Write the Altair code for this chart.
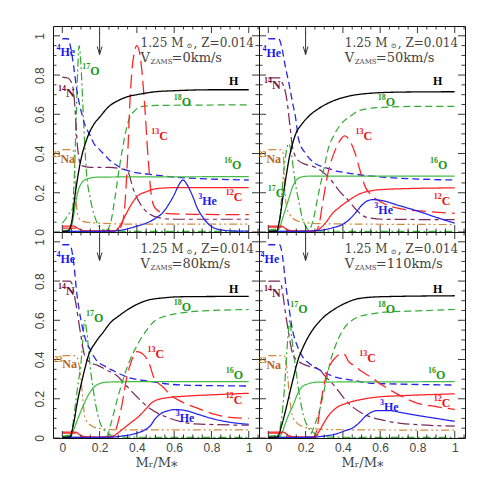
import altair as alt
import pandas as pd

# ---------------- axis ticks ----------------
X_MAJOR = [0, 0.2, 0.4, 0.6, 0.8, 1.0]
X_MINOR = [0.05, 0.1, 0.15, 0.25, 0.3, 0.35, 0.45, 0.5, 0.55, 0.65, 0.7, 0.75, 0.85, 0.9, 0.95, 1.05]
Y_MAJOR = [0, 0.2, 0.4, 0.6, 0.8, 1.0]
Y_MINOR = [0.05, 0.1, 0.15, 0.25, 0.3, 0.35, 0.45, 0.5, 0.55, 0.65, 0.7, 0.75, 0.85, 0.9, 0.95]
XDOM = [-0.05, 1.055]
YDOM = [0, 1.05]

VELOCITIES = ["0", "50", "80", "110"]
ARROW_X = [0.2, 0.2, 0.2, 0.2]

SPECIES = ["H", "He4", "He3", "C12", "C13", "N14", "O16", "O17", "O18", "Na23"]
LINE_COLORS = ["#000000", "#2424ee", "#2424ee", "#ff2222", "#ff2222", "#7a2a5a",
               "#44bb44", "#33aa33", "#33aa33", "#d08a40"]
LINE_DASH = [[1, 0], [7, 4], [1, 0], [1, 0], [14, 6], [12, 4, 4, 4],
             [1, 0], [8, 3, 2, 3], [7, 4], [8, 3, 2, 3, 2, 3]]
LINE_WIDTH = [1.3, 1.2, 1.2, 1.2, 1.2, 1.3, 2.0, 1.2, 1.2, 1.3]
LABEL_COLORS = {"H": "#000000", "He4": "#1a1aee", "He3": "#1a1aee", "C12": "#ee1111",
                "C13": "#ee1111", "N14": "#6a1040", "O16": "#1a9a1a", "O17": "#1a9a1a",
                "O18": "#1a9a1a", "Na23": "#b8661c"}

# ---------------- V = 0 km/s ----------------
V0_H = [(0, 0.003), (0.03, 0.005), (0.05, 0.05), (0.07, 0.2), (0.1, 0.37), (0.13, 0.47), (0.17, 0.55),
        (0.2, 0.585), (0.25, 0.64), (0.3, 0.67), (0.35, 0.69), (0.4, 0.70), (0.5, 0.715), (0.6, 0.72),
        (0.8, 0.725), (1.0, 0.725)]
V0_He4 = [(0, 0.985), (0.03, 0.985), (0.045, 0.94), (0.06, 0.85), (0.08, 0.71), (0.1, 0.62), (0.12, 0.55),
          (0.15, 0.49), (0.17, 0.45), (0.2, 0.42), (0.25, 0.37), (0.3, 0.335), (0.36, 0.31), (0.46, 0.295),
          (0.6, 0.28), (0.8, 0.27), (1.0, 0.265)]
V0_N14 = [(0, 0.79), (0.03, 0.785), (0.045, 0.77), (0.06, 0.72), (0.07, 0.6), (0.08, 0.45), (0.09, 0.37),
          (0.1, 0.34), (0.15, 0.33), (0.25, 0.33), (0.3, 0.325), (0.35, 0.31), (0.38, 0.22), (0.42, 0.14),
          (0.47, 0.09), (0.53, 0.07), (0.6, 0.065), (1.0, 0.065)]
V0_Na23 = [(0, 0.42), (0.055, 0.42), (0.062, 0.40), (0.068, 0.3), (0.075, 0.15), (0.085, 0.08), (0.1, 0.06),
           (0.13, 0.05), (0.2, 0.045), (0.4, 0.04), (1.0, 0.04)]
V0_O17 = [(0, 0.045), (0.02, 0.07), (0.04, 0.1), (0.055, 0.12), (0.065, 0.3), (0.075, 0.6), (0.085, 0.88),
          (0.09, 0.95), (0.1, 0.85), (0.11, 0.65), (0.12, 0.45), (0.13, 0.3), (0.15, 0.17), (0.17, 0.09),
          (0.2, 0.025), (0.23, 0.008), (0.4, 0.003), (1.0, 0.003)]
V0_O16 = [(0, 0.008), (0.04, 0.01), (0.05, 0.03), (0.06, 0.08), (0.07, 0.14), (0.08, 0.19), (0.09, 0.225),
          (0.1, 0.245), (0.12, 0.265), (0.15, 0.275), (0.2, 0.28), (1.0, 0.282)]
V0_O18 = [(0, 0.003), (0.22, 0.004), (0.24, 0.01), (0.26, 0.05), (0.28, 0.16), (0.3, 0.29), (0.32, 0.41),
          (0.34, 0.51), (0.36, 0.58), (0.39, 0.62), (0.43, 0.64), (0.5, 0.645), (1.0, 0.648)]
V0_C13 = [(0, 0.02), (0.07, 0.02), (0.1, 0.008), (0.15, 0.004), (0.29, 0.004), (0.32, 0.04), (0.335, 0.13),
          (0.35, 0.38), (0.363, 0.67), (0.38, 0.88), (0.40, 0.95), (0.42, 0.88), (0.44, 0.67), (0.46, 0.38),
          (0.48, 0.17), (0.5, 0.12), (0.55, 0.095), (0.7, 0.09), (1.0, 0.088)]
V0_C12 = [(0, 0.03), (0.06, 0.03), (0.09, 0.015), (0.12, 0.006), (0.28, 0.006), (0.3, 0.02), (0.32, 0.05),
          (0.344, 0.095), (0.37, 0.14), (0.4, 0.18), (0.45, 0.205), (0.5, 0.22), (0.6, 0.226), (1.0, 0.226)]
V0_He3 = [(0, 0.003), (0.25, 0.004), (0.32, 0.01), (0.4, 0.03), (0.45, 0.045), (0.5, 0.07), (0.54, 0.1),
          (0.57, 0.14), (0.6, 0.19), (0.625, 0.24), (0.647, 0.265), (0.67, 0.24), (0.7, 0.18), (0.725, 0.12),
          (0.754, 0.075), (0.79, 0.035), (0.83, 0.015), (0.9, 0.006), (1.0, 0.004)]

# ---------------- V = 50 km/s ----------------
V50_H = [(0, 0.003), (0.045, 0.005), (0.06, 0.06), (0.08, 0.19), (0.1, 0.31), (0.11, 0.367), (0.13, 0.45),
         (0.147, 0.5), (0.18, 0.55), (0.217, 0.59), (0.28, 0.635), (0.34, 0.665), (0.42, 0.69), (0.52, 0.705),
         (0.7, 0.713), (1.0, 0.715)]
V50_He4 = [(0, 0.985), (0.056, 0.985), (0.07, 0.95), (0.092, 0.84), (0.11, 0.76), (0.13, 0.66), (0.145, 0.59),
           (0.163, 0.47), (0.2, 0.4), (0.25, 0.35), (0.3, 0.33), (0.35, 0.315), (0.43, 0.30), (0.61, 0.28),
           (0.8, 0.27), (1.0, 0.265)]
V50_N14 = [(0, 0.785), (0.06, 0.785), (0.075, 0.76), (0.09, 0.72), (0.1, 0.67), (0.115, 0.55), (0.13, 0.43),
           (0.16, 0.365), (0.2, 0.345), (0.25, 0.33), (0.3, 0.3), (0.34, 0.26), (0.38, 0.21), (0.43, 0.16),
           (0.47, 0.115), (0.52, 0.077), (0.61, 0.065), (1.0, 0.063)]
V50_Na23 = [(0, 0.42), (0.07, 0.42), (0.08, 0.4), (0.085, 0.3), (0.09, 0.2), (0.1, 0.12), (0.115, 0.09),
            (0.13, 0.07), (0.16, 0.055), (0.2, 0.048), (0.3, 0.042), (1.0, 0.038)]
V50_O17 = [(0, 0.01), (0.04, 0.015), (0.06, 0.05), (0.07, 0.16), (0.08, 0.28), (0.09, 0.37), (0.1, 0.43),
           (0.11, 0.45), (0.12, 0.42), (0.135, 0.32), (0.15, 0.22), (0.163, 0.16), (0.18, 0.08), (0.2, 0.03),
           (0.22, 0.01), (0.3, 0.004), (1.0, 0.003)]
V50_O16 = [(0, 0.005), (0.05, 0.008), (0.06, 0.02), (0.08, 0.08), (0.1, 0.14), (0.11, 0.17), (0.13, 0.23),
           (0.147, 0.26), (0.17, 0.278), (0.2, 0.284), (0.3, 0.285), (1.0, 0.285)]
V50_O18 = [(0, 0.003), (0.2, 0.003), (0.22, 0.01), (0.24, 0.06), (0.27, 0.2), (0.3, 0.33), (0.32, 0.42),
           (0.35, 0.49), (0.39, 0.55), (0.44, 0.59), (0.49, 0.62), (0.6, 0.635), (0.8, 0.64), (1.0, 0.64)]
V50_C13 = [(0, 0.025), (0.07, 0.025), (0.1, 0.01), (0.15, 0.004), (0.25, 0.004), (0.27, 0.03), (0.29, 0.14),
           (0.32, 0.30), (0.34, 0.37), (0.36, 0.42), (0.38, 0.46), (0.41, 0.49), (0.44, 0.46), (0.466, 0.4),
           (0.49, 0.32), (0.52, 0.23), (0.55, 0.19), (0.61, 0.15), (0.7, 0.12), (0.85, 0.105), (1.0, 0.095)]
V50_C12 = [(0, 0.03), (0.07, 0.03), (0.1, 0.012), (0.14, 0.005), (0.25, 0.005), (0.28, 0.02), (0.31, 0.05),
           (0.34, 0.09), (0.38, 0.125), (0.43, 0.16), (0.48, 0.19), (0.55, 0.21), (0.62, 0.217), (0.7, 0.22),
           (1.0, 0.225)]
V50_He3 = [(0, 0.003), (0.2, 0.004), (0.25, 0.006), (0.34, 0.02), (0.4, 0.04), (0.43, 0.06), (0.47, 0.1),
           (0.5, 0.135), (0.53, 0.158), (0.56, 0.165), (0.61, 0.16), (0.7, 0.135), (0.79, 0.11), (0.9, 0.075),
           (1.0, 0.045)]

# ---------------- V = 80 km/s ----------------
V80_H = [(0, 0.003), (0.04, 0.005), (0.06, 0.07), (0.08, 0.18), (0.1, 0.27), (0.12, 0.35), (0.14, 0.42),
         (0.18, 0.49), (0.22, 0.54), (0.26, 0.59), (0.3, 0.62), (0.36, 0.66), (0.45, 0.70), (0.55, 0.715),
         (0.64, 0.72), (1.0, 0.722)]
V80_He4 = [(0, 0.985), (0.04, 0.985), (0.05, 0.96), (0.06, 0.9), (0.08, 0.72), (0.1, 0.6), (0.125, 0.5),
           (0.15, 0.45), (0.18, 0.40), (0.23, 0.365), (0.28, 0.34), (0.35, 0.31), (0.46, 0.29), (0.64, 0.27),
           (1.0, 0.265)]
V80_N14 = [(0, 0.8), (0.04, 0.8), (0.05, 0.79), (0.06, 0.75), (0.07, 0.7), (0.08, 0.64), (0.1, 0.52),
           (0.12, 0.42), (0.15, 0.385), (0.19, 0.37), (0.24, 0.345), (0.29, 0.32), (0.34, 0.27), (0.4, 0.21),
           (0.47, 0.15), (0.55, 0.11), (0.63, 0.085), (0.71, 0.072), (1.0, 0.065)]
V80_Na23 = [(0, 0.42), (0.07, 0.42), (0.08, 0.41), (0.09, 0.37), (0.1, 0.3), (0.11, 0.2), (0.12, 0.11),
            (0.14, 0.075), (0.19, 0.05), (0.3, 0.042), (1.0, 0.041)]
V80_O17 = [(0, 0.01), (0.04, 0.015), (0.055, 0.06), (0.07, 0.17), (0.085, 0.28), (0.1, 0.38), (0.11, 0.5),
           (0.12, 0.6), (0.13, 0.55), (0.15, 0.36), (0.17, 0.22), (0.19, 0.12), (0.21, 0.06), (0.24, 0.03),
           (0.27, 0.01), (0.35, 0.004), (1.0, 0.003)]
V80_O16 = [(0, 0.005), (0.045, 0.01), (0.06, 0.04), (0.08, 0.09), (0.11, 0.16), (0.14, 0.22), (0.17, 0.26),
           (0.2, 0.277), (0.24, 0.285), (0.4, 0.287), (1.0, 0.287)]
V80_O18 = [(0, 0.003), (0.22, 0.004), (0.24, 0.01), (0.26, 0.07), (0.29, 0.18), (0.32, 0.28), (0.36, 0.39),
           (0.4, 0.47), (0.46, 0.56), (0.5, 0.6), (0.55, 0.62), (0.62, 0.635), (0.71, 0.645), (1.0, 0.655)]
V80_C13 = [(0, 0.025), (0.07, 0.025), (0.1, 0.01), (0.15, 0.004), (0.27, 0.004), (0.29, 0.05), (0.32, 0.17),
           (0.344, 0.3), (0.37, 0.39), (0.40, 0.44), (0.44, 0.42), (0.47, 0.37), (0.49, 0.31), (0.54, 0.26),
           (0.58, 0.22), (0.65, 0.18), (0.73, 0.15), (0.82, 0.12), (0.9, 0.105), (1.0, 0.1)]
V80_C12 = [(0, 0.03), (0.07, 0.03), (0.1, 0.012), (0.14, 0.005), (0.26, 0.005), (0.29, 0.02), (0.33, 0.05),
           (0.37, 0.08), (0.41, 0.11), (0.45, 0.15), (0.48, 0.18), (0.51, 0.195), (0.56, 0.205), (0.64, 0.212),
           (0.8, 0.22), (1.0, 0.228)]
V80_He3 = [(0, 0.003), (0.25, 0.004), (0.32, 0.01), (0.4, 0.025), (0.44, 0.04), (0.47, 0.06), (0.5, 0.1),
           (0.53, 0.125), (0.57, 0.14), (0.6, 0.145), (0.66, 0.14), (0.73, 0.12), (0.8, 0.1), (0.9, 0.08),
           (1.0, 0.07)]

# ---------------- V = 110 km/s ----------------
V110_H = [(0, 0.003), (0.05, 0.005), (0.07, 0.06), (0.09, 0.13), (0.11, 0.21), (0.13, 0.29), (0.16, 0.4),
          (0.19, 0.47), (0.23, 0.54), (0.28, 0.6), (0.36, 0.66), (0.42, 0.69), (0.48, 0.71), (0.6, 0.72),
          (1.0, 0.725)]
V110_He4 = [(0, 0.985), (0.06, 0.985), (0.07, 0.96), (0.08, 0.9), (0.09, 0.81), (0.11, 0.67), (0.13, 0.55),
            (0.155, 0.47), (0.18, 0.42), (0.22, 0.38), (0.27, 0.35), (0.36, 0.31), (0.45, 0.295), (0.54, 0.28),
            (0.7, 0.275), (1.0, 0.27)]
V110_N14 = [(0, 0.8), (0.06, 0.8), (0.07, 0.78), (0.08, 0.72), (0.09, 0.65), (0.11, 0.53), (0.13, 0.43),
            (0.155, 0.395), (0.18, 0.38), (0.22, 0.365), (0.27, 0.35), (0.31, 0.31), (0.36, 0.26), (0.4, 0.21),
            (0.45, 0.16), (0.54, 0.11), (0.62, 0.09), (0.71, 0.075), (1.0, 0.06)]
V110_Na23 = [(0, 0.42), (0.085, 0.42), (0.095, 0.39), (0.105, 0.3), (0.115, 0.2), (0.13, 0.11), (0.15, 0.08),
             (0.18, 0.06), (0.25, 0.047), (0.4, 0.042), (1.0, 0.04)]
V110_O17 = [(0, 0.01), (0.05, 0.015), (0.065, 0.06), (0.075, 0.13), (0.09, 0.3), (0.1, 0.45), (0.11, 0.56),
            (0.115, 0.6), (0.125, 0.52), (0.14, 0.4), (0.15, 0.33), (0.17, 0.2), (0.19, 0.11), (0.21, 0.06),
            (0.24, 0.03), (0.27, 0.01), (0.35, 0.004), (1.0, 0.003)]
V110_O16 = [(0, 0.005), (0.06, 0.008), (0.07, 0.02), (0.09, 0.07), (0.11, 0.12), (0.13, 0.16), (0.155, 0.22),
            (0.18, 0.26), (0.22, 0.278), (0.27, 0.285), (1.0, 0.287)]
V110_O18 = [(0, 0.003), (0.2, 0.004), (0.22, 0.01), (0.25, 0.07), (0.28, 0.16), (0.31, 0.29), (0.33, 0.38),
            (0.36, 0.47), (0.4, 0.55), (0.45, 0.6), (0.49, 0.62), (0.55, 0.632), (0.61, 0.64), (0.8, 0.648),
            (1.0, 0.655)]
V110_C13 = [(0, 0.025), (0.08, 0.025), (0.11, 0.01), (0.15, 0.004), (0.24, 0.004), (0.26, 0.04), (0.28, 0.17),
            (0.306, 0.3), (0.33, 0.37), (0.36, 0.41), (0.395, 0.43), (0.41, 0.425), (0.43, 0.39), (0.46, 0.37),
            (0.5, 0.34), (0.55, 0.31), (0.61, 0.27), (0.7, 0.22), (0.79, 0.18), (0.9, 0.16), (1.0, 0.145)]
V110_C12 = [(0, 0.03), (0.08, 0.03), (0.11, 0.012), (0.15, 0.005), (0.25, 0.005), (0.27, 0.03), (0.3, 0.08),
            (0.32, 0.11), (0.36, 0.15), (0.43, 0.18), (0.52, 0.2), (0.6, 0.21), (0.7, 0.215), (1.0, 0.225)]
V110_He3 = [(0, 0.003), (0.24, 0.004), (0.3, 0.01), (0.36, 0.02), (0.42, 0.04), (0.45, 0.05), (0.49, 0.08),
            (0.52, 0.11), (0.55, 0.13), (0.59, 0.14), (0.65, 0.14), (0.71, 0.13), (0.8, 0.115), (0.9, 0.1),
            (1.0, 0.085)]

# ---------------- species labels: (species, superscript, name, x, y) ----------------
V0_LABELS = [("He4", "4", "He", -0.01, 0.92), ("N14", "14", "N", 0.02, 0.71), ("O17", "17", "O", 0.15, 0.82),
             ("Na23", "23", "Na", -0.01, 0.37), ("H", "", "H", 0.894, 0.77), ("O18", "18", "O", 0.64, 0.665),
             ("C13", "13", "C", 0.52, 0.49), ("O16", "16", "O", 0.91, 0.34), ("C12", "12", "C", 0.92, 0.18),
             ("He3", "3", "He", 0.75, 0.16)]
V50_LABELS = [("He4", "4", "He", -0.01, 0.91), ("N14", "14", "N", 0.02, 0.75), ("Na23", "23", "Na", -0.01, 0.37),
              ("O17", "17", "O", 0.04, 0.2), ("H", "", "H", 0.884, 0.77), ("O18", "18", "O", 0.63, 0.665),
              ("C13", "13", "C", 0.51, 0.49), ("O16", "16", "O", 0.91, 0.34), ("C12", "12", "C", 0.93, 0.16),
              ("He3", "3", "He", 0.59, 0.11)]
V80_LABELS = [("He4", "4", "He", -0.01, 0.91), ("N14", "14", "N", 0.02, 0.75), ("O17", "17", "O", 0.17, 0.61),
              ("Na23", "23", "Na", 0.0, 0.375), ("H", "", "H", 0.894, 0.76), ("O18", "18", "O", 0.64, 0.67),
              ("C13", "13", "C", 0.5, 0.43), ("O16", "16", "O", 0.92, 0.32), ("C12", "12", "C", 0.92, 0.195),
              ("He3", "3", "He", 0.63, 0.1)]
V110_LABELS = [("He4", "4", "He", -0.02, 0.91), ("N14", "14", "N", 0.02, 0.74), ("O17", "17", "O", 0.16, 0.66),
               ("Na23", "23", "Na", -0.01, 0.37), ("H", "", "H", 0.884, 0.76), ("O18", "18", "O", 0.63, 0.66),
               ("C13", "13", "C", 0.53, 0.41), ("O16", "16", "O", 0.9, 0.32), ("C12", "12", "C", 0.93, 0.18),
               ("He3", "3", "He", 0.62, 0.16)]

PW, PH = 206, 206
TICK_C = "#222222"
SERIF = "DejaVu Serif"
TXT_C = "#444444"


def build_panel(curves, labels, vel, arrow_x, title_x, show_x, show_y):
    rows = []
    for sp, pts in curves:
        for i, (x, y) in enumerate(pts):
            rows.append({"sp": sp, "x": x, "y": y, "i": i})
    df = pd.DataFrame(rows)
    xs = alt.Scale(domain=XDOM, nice=False, zero=False)
    ys = alt.Scale(domain=YDOM, nice=False, zero=False)
    if show_x:
        xaxis = alt.Axis(values=X_MAJOR, ticks=False, domain=False, grid=False, labelFlush=False,
                         labelPadding=4, format="~g", title="Mᵣ/M⁎", titlePadding=3)
    else:
        xaxis = None
    if show_y:
        yaxis = alt.Axis(values=Y_MAJOR, ticks=False, domain=False, grid=False, labelFlush=False,
                         labelAngle=270, labelAlign="center", labelBaseline="bottom", labelPadding=7,
                         format="~g", title=None)
    else:
        yaxis = None

    def X():
        return alt.X("x:Q", scale=xs, axis=xaxis)

    def Y():
        return alt.Y("y:Q", scale=ys, axis=yaxis)

    lines = alt.Chart(df).mark_line(clip=True, interpolate="monotone").encode(
        x=X(), y=Y(),
        color=alt.Color("sp:N", scale=alt.Scale(domain=SPECIES, range=LINE_COLORS), legend=None),
        strokeDash=alt.StrokeDash("sp:N", scale=alt.Scale(domain=SPECIES, range=LINE_DASH), legend=None),
        strokeWidth=alt.StrokeWidth("sp:N", scale=alt.Scale(domain=SPECIES, range=LINE_WIDTH), legend=None),
        order="i:Q",
    )

    layers = [lines]
    for vals, L in ((X_MAJOR, 7), (X_MINOR, 3.5)):
        d = pd.DataFrame({"x": vals})
        layers.append(alt.Chart(d).mark_rule(color=TICK_C, strokeWidth=0.9).encode(
            x=X(), y=alt.value(PH), y2=alt.value(PH - L)))
        layers.append(alt.Chart(d).mark_rule(color=TICK_C, strokeWidth=0.9).encode(
            x=X(), y=alt.value(0), y2=alt.value(L)))
    for vals, L in ((Y_MAJOR, 7), (Y_MINOR, 3.5)):
        d = pd.DataFrame({"y": vals})
        layers.append(alt.Chart(d).mark_rule(color=TICK_C, strokeWidth=0.9).encode(
            y=Y(), x=alt.value(0), x2=alt.value(L)))
        layers.append(alt.Chart(d).mark_rule(color=TICK_C, strokeWidth=0.9).encode(
            y=Y(), x=alt.value(PW), x2=alt.value(PW - L)))

    # species labels (mass number as a small raised text before the element name)
    ld = pd.DataFrame([{"sup": s, "main": m, "x": x, "y": y, "c": LABEL_COLORS[sp]}
                       for sp, s, m, x, y in labels])
    layers.append(alt.Chart(ld).mark_text(align="right", baseline="middle", dy=-4, fontSize=8,
                                          font="Liberation Serif", fontWeight="bold").encode(
        x=X(), y=Y(), text="sup:N", color=alt.Color("c:N", scale=None)))
    layers.append(alt.Chart(ld).mark_text(align="left", baseline="middle", fontSize=12,
                                          font="Liberation Serif", fontWeight="bold").encode(
        x=X(), y=Y(), text="main:N", color=alt.Color("c:N", scale=None)))

    # title text
    t1 = pd.DataFrame({"x": [title_x], "y": [0.965]})
    t2 = pd.DataFrame({"x": [title_x], "y": [0.885]})
    for d, txt, dx, dy, fs in ((t1, "1.25 M", 0, 0, 12), (t1, "⊙", 46, 3, 7), (t1, ", Z=0.014", 53, 0, 12),
                               (t2, "V", 0, 0, 13), (t2, "ZAMS", 10, 4, 7), (t2, "=" + vel + "km/s", 31, 0, 13)):
        layers.append(alt.Chart(d).mark_text(text=txt, align="left", baseline="middle", dx=dx, dy=dy,
                                             fontSize=fs, font=SERIF, color=TXT_C).encode(x=X(), y=Y()))

    # arrow
    ad = pd.DataFrame({"x": [arrow_x], "y": [1.02], "y2": [0.905]})
    layers.append(alt.Chart(ad).mark_rule(color="#333333", strokeWidth=1).encode(x=X(), y=Y(), y2="y2:Q"))
    hd = pd.DataFrame({"x": [arrow_x], "y": [0.925]})
    layers.append(alt.Chart(hd).mark_point(shape="M-0.6,-1L0,1L0.6,-1", size=64, filled=False,
                                           color="#333333", strokeWidth=1, opacity=1).encode(x=X(), y=Y()))

    return alt.layer(*layers).properties(width=PW, height=PH)


def curves_of(H, He4, He3, C12, C13, N14, O16, O17, O18, Na23):
    return [("Na23", Na23), ("O17", O17), ("N14", N14), ("He4", He4), ("O16", O16), ("O18", O18),
            ("C13", C13), ("C12", C12), ("He3", He3), ("H", H)]


p1 = build_panel(curves_of(V0_H, V0_He4, V0_He3, V0_C12, V0_C13, V0_N14, V0_O16, V0_O17, V0_O18, V0_Na23),
                 V0_LABELS, VELOCITIES[0], ARROW_X[0], 0.42, False, True)
p2 = build_panel(curves_of(V50_H, V50_He4, V50_He3, V50_C12, V50_C13, V50_N14, V50_O16, V50_O17, V50_O18, V50_Na23),
                 V50_LABELS, VELOCITIES[1], ARROW_X[1], 0.41, False, False)
p3 = build_panel(curves_of(V80_H, V80_He4, V80_He3, V80_C12, V80_C13, V80_N14, V80_O16, V80_O17, V80_O18, V80_Na23),
                 V80_LABELS, VELOCITIES[2], ARROW_X[2], 0.42, True, True)
p4 = build_panel(curves_of(V110_H, V110_He4, V110_He3, V110_C12, V110_C13, V110_N14, V110_O16, V110_O17, V110_O18,
                           V110_Na23),
                 V110_LABELS, VELOCITIES[3], ARROW_X[3], 0.41, True, False)

chart = alt.concat(p1, p2, p3, p4, columns=2, spacing=0, bounds="flush").configure_view(
    stroke="#111111", strokeWidth=1
).configure_axis(
    labelFont="Liberation Sans", labelFontSize=12, labelColor=TXT_C,
    titleFont=SERIF, titleFontSize=13, titleFontWeight="normal", titleColor=TXT_C
).properties(padding={"left": 24, "top": 17, "right": 5, "bottom": 5})

chart.save("out.html", embed_options={"renderer": "svg", "actions": False})
